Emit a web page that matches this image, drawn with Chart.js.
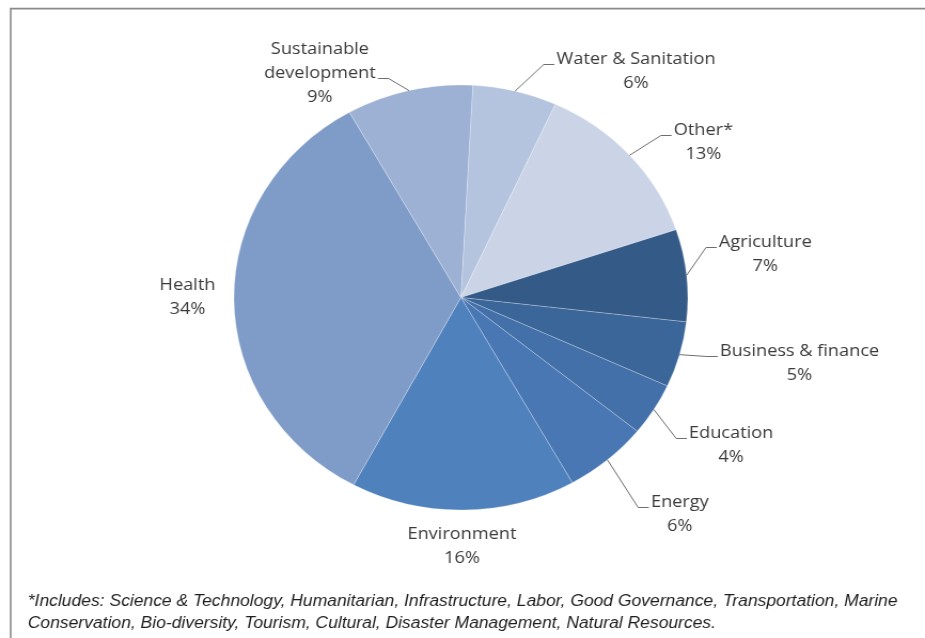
<!DOCTYPE html>
<html>
<head>
<meta charset="utf-8">
<title>Projects by sector</title>
<script src="https://cdn.jsdelivr.net/npm/chart.js@4.4.1/dist/chart.umd.min.js"></script>
<style>
  html, body { margin: 0; padding: 0; background: #fff; }
  #sectorChart { display: block; }
</style>
</head>
<body>
<!-- drawn at 866px and stretched to the page width, so the pie comes out slightly oval -->
<canvas id="sectorChart" width="866" height="638" style="width: 925px; height: 638px;"></canvas>
<script>
const sectors = ['Water & Sanitation', 'Other*', 'Agriculture', 'Business & finance', 'Education',
  'Energy', 'Environment', 'Health', 'Sustainable development'];
const shares = [6, 13, 7, 5, 4, 6, 16, 34, 9];
const sliceColors = ['#b4c3de', '#cbd4e6', '#345a87', '#3b6699', '#4370a8',
  '#4877b4', '#4f81bd', '#7f9cc8', '#9db1d4'];
const footnoteLines = [
  '*Includes: Science & Technology, Humanitarian, Infrastructure, Labor, Good Governance, Transportation, Marine',
  'Conservation, Bio-diversity, Tourism, Cultural, Disaster Management, Natural Resources.'
];

// where each label block sits, relative to the pie centre (first line centre)
const labelPlacement = [
  { dx: 164, dy: -238, leader: true },
  { dx: 227, dy: -167, leader: true },
  { dx: 285, dy: -55, leader: true },
  { dx: 317, dy: 54, leader: true },
  { dx: 253, dy: 136, leader: true },
  { dx: 205, dy: 205, leader: true },
  { dx: 1, dy: 237, leader: false },
  { dx: -256, dy: -12, leader: false },
  { dx: -132, dy: -248, leader: true, wrap: true },
];

const LABEL_FONT = '17px "Open Sans", "Liberation Sans", sans-serif';
const LINE_HEIGHT = 24;
const TEXT_COLOR = '#3a3a3a';
const NOTE_WIDTH = 815;

const frameAndNote = {
  id: 'frameAndNote',
  beforeDraw(chart) {
    const ctx = chart.ctx;
    ctx.save();
    ctx.strokeStyle = '#8a8a8a';
    ctx.lineWidth = 1.6;
    ctx.beginPath();
    ctx.moveTo(10, chart.height + 2);
    ctx.lineTo(10, 8.6);
    ctx.lineTo(chart.width + 2, 8.6);
    ctx.stroke();

    // size the footnote so its first line runs the full width of the frame
    ctx.font = 'italic 16px "Liberation Sans", sans-serif';
    const size = 16 * NOTE_WIDTH / ctx.measureText(footnoteLines[0]).width;
    ctx.font = `italic ${size.toFixed(2)}px "Liberation Sans", sans-serif`;
    ctx.fillStyle = '#1e1e1e';
    ctx.textAlign = 'left';
    ctx.textBaseline = 'middle';
    footnoteLines.forEach((line, i) => ctx.fillText(line, 26, 601 + i * 22));
    ctx.restore();
  }
};

const sectorLabels = {
  id: 'sectorLabels',
  afterDatasetsDraw(chart) {
    const ctx = chart.ctx;
    const arcs = chart.getDatasetMeta(0).data;
    ctx.save();
    ctx.font = LABEL_FONT;
    ctx.fillStyle = TEXT_COLOR;
    ctx.strokeStyle = '#6e6e6e';
    ctx.lineWidth = 1;
    ctx.textAlign = 'center';
    ctx.textBaseline = 'middle';

    arcs.forEach((arc, i) => {
      const { x, y, startAngle, endAngle, outerRadius } =
        arc.getProps(['x', 'y', 'startAngle', 'endAngle', 'outerRadius'], true);
      const place = labelPlacement[i];
      const lines = place.wrap ? sectors[i].split(' ') : [sectors[i]];
      lines.push(shares[i] + '%');
      const cx = x + place.dx;
      const top = y + place.dy;

      if (place.leader) {
        const widths = lines.map((l) => ctx.measureText(l).width);
        const widest = widths.indexOf(Math.max(...widths));
        const side = place.dx > 0 ? -1 : 1;
        const ax = cx + side * (widths[widest] / 2 + 2);
        const ay = top + widest * LINE_HEIGHT + 5;
        const mid = (startAngle + endAngle) / 2;
        ctx.beginPath();
        ctx.moveTo(x + Math.cos(mid) * outerRadius, y + Math.sin(mid) * outerRadius);
        ctx.lineTo(ax + side * 10, ay);
        ctx.lineTo(ax, ay);
        ctx.stroke();
      }

      lines.forEach((line, k) => ctx.fillText(line, cx, top + k * LINE_HEIGHT));
    });
    ctx.restore();
  }
};

new Chart(document.getElementById('sectorChart'), {
  type: 'pie',
  data: {
    labels: sectors,
    datasets: [{
      data: shares,
      backgroundColor: sliceColors,
      borderColor: 'rgba(255, 255, 255, 0.3)',
      borderWidth: 0.8,
      radius: 212.5,
    }],
  },
  options: {
    responsive: false,
    animation: false,
    rotation: 3,
    layout: { padding: { left: 218, right: 221, top: 84, bottom: 127 } },
    plugins: {
      legend: { display: false },
      tooltip: { enabled: false },
    },
  },
  plugins: [frameAndNote, sectorLabels],
});
</script>
</body>
</html>
